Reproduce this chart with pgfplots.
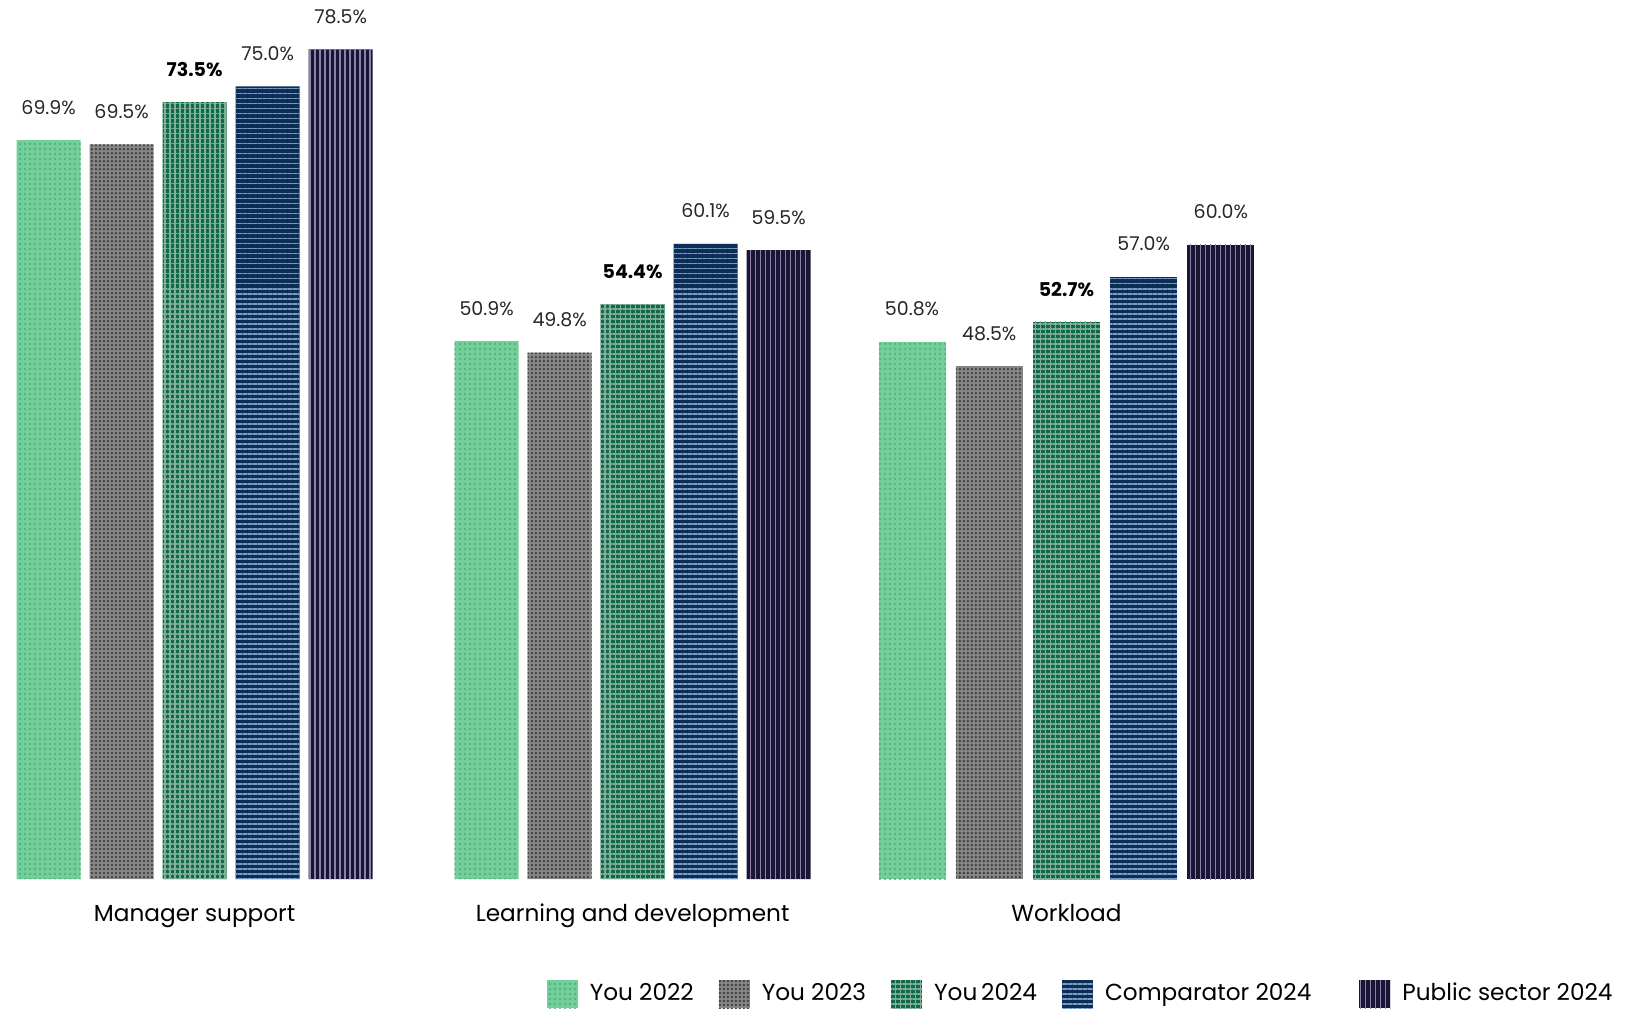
\documentclass[border=0pt]{standalone}
\usepackage{pgfplots}
\pgfplotsset{compat=1.18}
\usetikzlibrary{patterns.meta}
\usepackage{fontspec}
\setmainfont{Poppins}
\definecolor{cA}{HTML}{72CF99}
\definecolor{cAp}{HTML}{4FA874}
\definecolor{cB}{HTML}{888888}
\definecolor{cBp}{HTML}{454545}
\definecolor{cC}{HTML}{0E6A48}
\definecolor{cCp}{HTML}{7FAF98}
\definecolor{cD}{HTML}{0C2D55}
\definecolor{cDp}{HTML}{7A9CC4}
\definecolor{cE}{HTML}{1A1535}
\definecolor{cEp}{HTML}{8A82AA}
\pgfplotsset{
  sA/.style={fill=cA, draw=none, postaction={pattern={Dots[distance=0.05cm, radius=0.3pt]}, pattern color=cAp}},
  sB/.style={fill=cB, draw=none, postaction={pattern={Dots[distance=0.04cm, radius=0.4pt]}, pattern color=cBp}},
  sC/.style={fill=cC, draw=none, postaction={pattern={Hatch[distance=0.05cm, angle=0, line width=0.3pt]}, pattern color=cCp},
    nodes near coords style={font=\fontsize{5.4}{6.5}\selectfont\bfseries, text=black}},
  sD/.style={fill=cD, draw=none, postaction={pattern={Lines[distance=0.05cm, angle=0, line width=0.3pt]}, pattern color=cDp}},
  sE/.style={fill=cE, draw=none, postaction={pattern={Lines[distance=0.05cm, angle=90, line width=0.3pt]}, pattern color=cEp}},
}
\begin{document}
\begin{tikzpicture}
\useasboundingbox (0,0) rectangle (16.41cm,10.09cm);
\begin{axis}[
  at={(-0.015cm,1.30cm)}, anchor=south west,
  scale only axis,
  x=4.359cm, y=0.1057cm,
  xmin=-0.45, xmax=3.3, ymin=0, ymax=83,
  clip=false,
  axis line style={draw=none},
  major tick length=0pt,
  ytick=\empty,
  xtick={0,1.0048,2},
  xticklabels={Manager support, Learning and development, Workload},
  xticklabel style={anchor=base, inner sep=0pt, yshift=-0.42cm, font=\fontsize{6.6}{8}\selectfont},
  ybar, bar width=0.64cm,
  /pgf/number format/assume math mode=true,
  nodes near coords={\pgfmathprintnumber[fixed,fixed zerofill,precision=1]{\pgfplotspointmeta}\%},
  nodes near coords style={anchor=south, inner sep=0pt, yshift=0.25cm, font=\fontsize{5.4}{6.5}\selectfont, text=black!85},
  legend columns=5,
  legend style={at={(0.335,-0.148)}, anchor=south west, draw=none, fill=none,
    font=\fontsize{6.6}{8}\selectfont, inner sep=0pt, row sep=0pt,
    nodes={inner sep=0pt},
    /tikz/every odd column/.append style={column sep=0.12cm},
    /tikz/every even column/.append style={column sep=0.25cm}},
  legend image code/.code={\path[#1] (0cm,-0.14cm) rectangle (0.31cm,0.14cm);},
]
% groups 1 and 2
\addplot[sA, bar shift=-1.46cm] coordinates {(0,69.9) (1.0048,50.9)};
\addlegendentry{You 2022}
\addplot[sB, bar shift=-0.73cm] coordinates {(0,69.5) (1.0048,49.8)};
\addlegendentry{You 2023}
\addplot[sC, bar shift=0cm] coordinates {(0,73.5) (1.0048,54.4)};
\addlegendentry{You\,2024}
\addplot[sD, bar shift=0.73cm] coordinates {(0,75.0) (1.0048,60.1)};
\addlegendentry{Comparator 2024\rule{0.23cm}{0pt}}
\addplot[sE, bar shift=1.46cm] coordinates {(0,78.5) (1.0048,59.5)};
\addlegendentry{Public sector 2024}
% group 3 (slightly wider bars)
\addplot[sA, forget plot, bar width=0.67cm, bar shift=-1.544cm] coordinates {(2,50.8)};
\addplot[sB, forget plot, bar width=0.67cm, bar shift=-0.772cm] coordinates {(2,48.5)};
\addplot[sC, forget plot, bar width=0.67cm, bar shift=0cm] coordinates {(2,52.7)};
\addplot[sD, forget plot, bar width=0.67cm, bar shift=0.772cm] coordinates {(2,57.0)};
\addplot[sE, forget plot, bar width=0.67cm, bar shift=1.544cm] coordinates {(2,60.0)};
\end{axis}
\end{tikzpicture}
\end{document}
